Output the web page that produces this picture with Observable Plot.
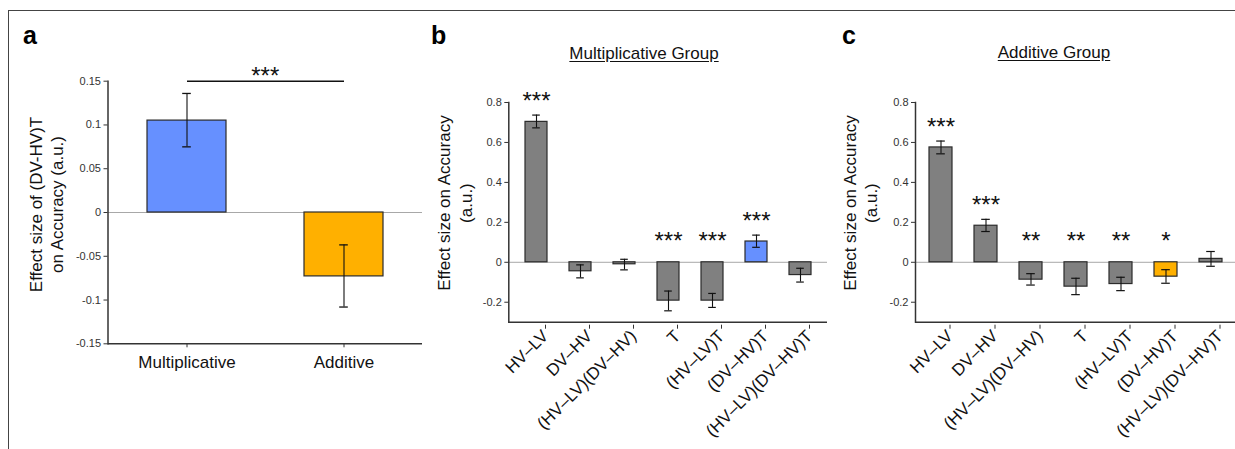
<!DOCTYPE html>
<html><head><meta charset="utf-8">
<script src="https://cdn.jsdelivr.net/npm/d3@7"></script>
<script src="https://cdn.jsdelivr.net/npm/@observablehq/plot@0.6"></script>
<style>
body{margin:0;background:#fff;font-family:"Liberation Sans",Arial,Helvetica,sans-serif;}
#wrap{position:relative;width:1235px;height:449px;overflow:hidden;background:#fff;}
#wrap svg{position:absolute;top:0;}
.frame{position:absolute;left:8px;top:10px;width:1300px;height:500px;border-left:1.5px solid #444;border-top:1.5px solid #444;}
.letter{position:absolute;font-weight:bold;font-size:25px;line-height:1;color:#000;}
.title{position:absolute;font-size:17px;text-decoration:underline;text-underline-offset:2px;transform:translateX(-50%);white-space:nowrap;line-height:1;color:#111;}
</style></head><body><div id="wrap"><div class="frame"></div></div>
<script>
// ---- data ----
const groupsA = ["Multiplicative", "Additive"];
const effectA = [0.105, -0.073];
const loA = [0.075, -0.108];
const hiA = [0.136, -0.037];
const ticksA = [-0.15, -0.1, -0.05, 0, 0.05, 0.1, 0.15];
const sigA = "***";

const terms = ["HV–LV", "DV–HV", "(HV–LV)(DV–HV)", "T", "(HV–LV)T", "(DV–HV)T", "(HV–LV)(DV–HV)T"];
const effectB = [0.703, -0.045, -0.010, -0.192, -0.192, 0.104, -0.064];
const loB = [0.673, -0.078, -0.038, -0.243, -0.226, 0.075, -0.099];
const hiB = [0.737, -0.013, 0.015, -0.144, -0.156, 0.136, -0.030];
const sigB = ["***", "", "", "***", "***", "***", ""];

const effectC = [0.575, 0.183, -0.087, -0.122, -0.109, -0.072, 0.017];
const loC = [0.543, 0.154, -0.114, -0.162, -0.142, -0.105, -0.020];
const hiC = [0.607, 0.215, -0.057, -0.080, -0.075, -0.037, 0.054];
const sigC = ["***", "***", "**", "**", "**", "*", ""];

const ticksBC = [-0.2, 0, 0.2, 0.4, 0.6, 0.8];
const highlightTerm = "(DV–HV)T";

// ---- styles ----
const FONT = '"Liberation Sans", Arial, Helvetica, sans-serif';
const GRAY = "#808080", BLUE = "#6690ff", ORANGE = "#ffb000", EDGE = "#2b2b2b";
const colorA = {"Multiplicative": BLUE, "Additive": ORANGE};
const fmt = d => String(d);
const svgStyle = {background: "transparent", fontFamily: FONT, color: "#333", overflow: "visible"};
const STAR = 24;
const wrap = document.getElementById("wrap");

// ---- panel a ----
const dataA = groupsA.map((g, i) => ({g, v: effectA[i], lo: loA[i], hi: hiA[i]}));
const plotA = Plot.plot({
  width: 422, height: 449,
  marginLeft: 107.5, marginRight: 0, marginTop: 80.7, marginBottom: 105.7,
  style: svgStyle,
  x: {domain: groupsA, paddingInner: 0.5, paddingOuter: 0.25, axis: null},
  y: {domain: [-0.15, 0.15], axis: null},
  marks: [
    Plot.ruleY([0], {stroke: "#a8a8a8"}),
    Plot.barY(dataA, {x: "g", y1: 0, y2: "v", fill: d => colorA[d.g], stroke: EDGE, strokeWidth: 1.2}),
    Plot.ruleX(dataA, {x: "g", y1: "lo", y2: "hi", stroke: "#111", strokeWidth: 1.1}),
    Plot.tickY(dataA, {x: "g", y: "lo", insetLeft: 35.2, insetRight: 35.2, stroke: "#111", strokeWidth: 1.3}),
    Plot.tickY(dataA, {x: "g", y: "hi", insetLeft: 35.2, insetRight: 35.2, stroke: "#111", strokeWidth: 1.3}),
    Plot.link([{a: groupsA[0], b: groupsA[1], y: 0.15}], {x1: "a", x2: "b", y1: "y", y2: "y", stroke: "#111", strokeWidth: 1.5}),
    Plot.text([sigA], {frameAnchor: "top", text: d => d, lineAnchor: "middle", textAnchor: "middle", dy: -4.5, fontSize: STAR, fill: "#111"}),
    Plot.ruleY([-0.15], {stroke: "#333", strokeWidth: 1.5}),
    Plot.frame({anchor: "left", stroke: "#333", strokeWidth: 1.5}),
    Plot.axisY({ticks: ticksA, tickFormat: fmt, tickSize: 4, tickPadding: 3, fontSize: 11}),
    Plot.axisX({tickSize: 4, tickPadding: 8, fontSize: 17, fill: "#111", label: null}),
    Plot.text(["Effect size of (DV-HV)T\non Accuracy (a.u.)"], {frameAnchor: "left", rotate: -90, text: d => d,
      textAnchor: "middle", dx: -62.5, dy: -8, fontSize: 17, lineHeight: 1.27, lineAnchor: "middle", fill: "#111"})
  ]
});
plotA.style.left = "0px";
wrap.appendChild(plotA);

// ---- panels b, c ----
function termPanel({effect, lo, hi, sig, hlColor, width, marginLeft, marginRight, labelDx}) {
  const data = terms.map((t, i) => ({t, v: effect[i], lo: lo[i], hi: hi[i], s: sig[i]}));
  const cap = {insetLeft: 7.2, insetRight: 7.2, stroke: "#111", strokeWidth: 1.2};
  return Plot.plot({
    width, height: 449, marginLeft, marginRight, marginTop: 102, marginBottom: 127.3,
    style: svgStyle,
    x: {domain: terms, paddingInner: 0.5, paddingOuter: 0.3, axis: null},
    y: {domain: [-0.3, 0.8], axis: null},
    marks: [
      Plot.ruleY([0], {stroke: "#a8a8a8"}),
      Plot.barY(data, {x: "t", y1: 0, y2: "v", fill: d => d.t === highlightTerm ? hlColor : GRAY, stroke: EDGE, strokeWidth: 1.2}),
      Plot.ruleX(data, {x: "t", y1: "lo", y2: "hi", stroke: "#111", strokeWidth: 1.1}),
      Plot.tickY(data, {x: "t", y: "lo", ...cap}),
      Plot.tickY(data, {x: "t", y: "hi", ...cap}),
      Plot.text(data.filter(d => d.s && d.v > 0), {x: "t", y: "hi", text: "s", dy: -14, fontSize: STAR, lineAnchor: "middle", fill: "#111"}),
      Plot.text(data.filter(d => d.s && d.v <= 0), {x: "t", y: 0, text: "s", dy: -20.7, fontSize: STAR, lineAnchor: "middle", fill: "#111"}),
      Plot.ruleY([-0.3], {stroke: "#333", strokeWidth: 1.5}),
      Plot.frame({anchor: "left", stroke: "#333", strokeWidth: 1.5}),
      Plot.axisY({ticks: ticksBC, tickFormat: fmt, tickSize: 4, tickPadding: 3, fontSize: 11}),
      Plot.axisX({tickRotate: -45, tickSize: 4, tickPadding: 4, dx: 9, dy: 3, fontSize: 17, fill: "#111", label: null}),
      Plot.text(["Effect size on Accuracy\n(a.u.)"], {frameAnchor: "left", rotate: -90, text: d => d,
        textAnchor: "middle", dx: labelDx, dy: -9.3, fontSize: 17, lineHeight: 1.27, lineAnchor: "middle", fill: "#111"})
    ]
  });
}
const plotB = termPanel({effect: effectB, lo: loB, hi: hiB, sig: sigB, hlColor: BLUE, width: 408, marginLeft: 86.3, marginRight: 3, labelDx: -55});
plotB.style.left = "422px";
wrap.appendChild(plotB);
const plotC = termPanel({effect: effectC, lo: loC, hi: hiC, sig: sigC, hlColor: ORANGE, width: 405, marginLeft: 85, marginRight: 0, labelDx: -56});
plotC.style.left = "830px";
wrap.appendChild(plotC);

// ---- letters and titles ----
function addDiv(cls, text, left, top) {
  const d = document.createElement("div");
  d.className = cls; d.textContent = text;
  d.style.left = left + "px"; d.style.top = top + "px";
  wrap.appendChild(d);
}
addDiv("letter", "a", 23, 23);
addDiv("letter", "b", 431, 23);
addDiv("letter", "c", 842, 23);
addDiv("title", "Multiplicative Group", 644, 45);
addDiv("title", "Additive Group", 1054, 44);
</script></body></html>
